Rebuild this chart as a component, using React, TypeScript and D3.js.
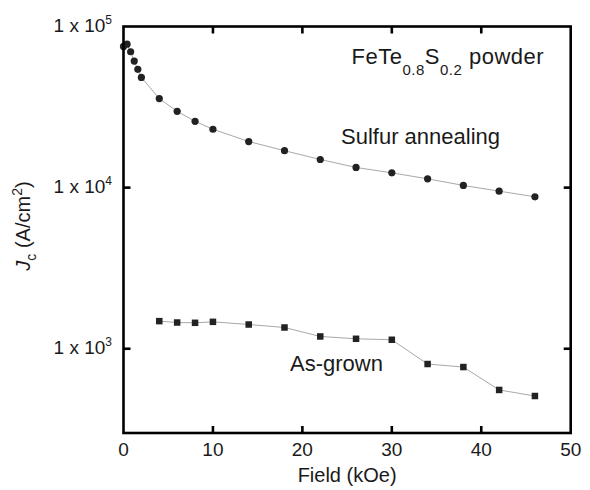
import React from "react";
import * as d3 from "d3";

const sulfurField = [0, 0.4, 0.8, 1.2, 1.6, 2, 4, 6, 8, 10, 14, 18, 22, 26, 30, 34, 38, 42, 46];
const sulfurJc = [75200, 77700, 69700, 61000, 54200, 48300, 35700, 29770, 25800, 23030, 19320, 16950, 14950, 13340, 12350, 11340, 10320, 9510, 8770];

const grownField = [4, 6, 8, 10, 14, 18, 22, 26, 30, 34, 38, 42, 46];
const grownJc = [1484, 1455, 1449, 1469, 1414, 1355, 1192, 1153, 1137, 804, 770, 555, 509];

const xTicks = [0, 10, 20, 30, 40, 50];
const yTicks = [1e3, 1e4, 1e5];
const yExponents = ["3", "4", "5"];

const W = 590;
const H = 490;
const left = 123.5;
const right = 570.7;
const top = 26.5;
const bottom = 433;
const FONT = "'Liberation Sans', Arial, Helvetica, sans-serif";
const INK = "#1a1a1a";

export default function App() {
  const x = d3.scaleLinear().domain([0, 50]).range([left, right]);
  const y = d3.scaleLog().domain([300, 1e5]).range([bottom, top]);

  const lineGen = d3
    .line<[number, number]>()
    .x((d) => x(d[0]))
    .y((d) => y(d[1]));

  const sulfurPts: [number, number][] = sulfurField.map((f, i) => [f, sulfurJc[i]]);
  const grownPts: [number, number][] = grownField.map((f, i) => [f, grownJc[i]]);

  const tickLen = 7;
  const sq = 6.5;

  return (
    <svg
      width={W}
      height={H}
      style={{ position: "absolute", left: 0, top: 0, background: "#fff" }}
      fontFamily={FONT}
    >
      <rect x={0} y={0} width={W} height={H} fill="#fff" />
      {/* data lines */}
      <path d={lineGen(sulfurPts) || ""} fill="none" stroke="#a8a8a8" strokeWidth={1} />
      <path d={lineGen(grownPts) || ""} fill="none" stroke="#a8a8a8" strokeWidth={1} />
      {sulfurPts.map((d, i) => (
        <circle key={"s" + i} cx={x(d[0])} cy={y(d[1])} r={3.6} fill="#222" />
      ))}
      {grownPts.map((d, i) => (
        <rect
          key={"g" + i}
          x={x(d[0]) - sq / 2}
          y={y(d[1]) - sq / 2}
          width={sq}
          height={sq}
          fill="#222"
        />
      ))}

      {/* frame */}
      <rect
        x={left}
        y={top}
        width={right - left}
        height={bottom - top}
        fill="none"
        stroke="#000"
        strokeWidth={2.6}
      />
      {/* x ticks */}
      {xTicks.slice(1, -1).map((t) => (
        <g key={"xt" + t}>
          <line x1={x(t)} x2={x(t)} y1={bottom} y2={bottom - tickLen} stroke="#000" strokeWidth={2.6} />
          <line x1={x(t)} x2={x(t)} y1={top} y2={top + tickLen} stroke="#000" strokeWidth={2.6} />
        </g>
      ))}
      {xTicks.map((t) => (
        <text key={"xl" + t} x={x(t)} y={456} textAnchor="middle" fontSize={19} fill={INK}>
          {t}
        </text>
      ))}
      {/* y ticks */}
      {yTicks.slice(0, 2).map((t) => (
        <g key={"yt" + t}>
          <line x1={left} x2={left + tickLen} y1={y(t)} y2={y(t)} stroke="#000" strokeWidth={2.6} />
          <line x1={right} x2={right - tickLen} y1={y(t)} y2={y(t)} stroke="#000" strokeWidth={2.6} />
        </g>
      ))}
      {yTicks.map((t, i) => (
        <text key={"yl" + t} x={112} y={y(t) + 5} textAnchor="end" fontSize={19} fill={INK}>
          1 x 10
          <tspan fontSize={12} dy={-8}>
            {yExponents[i]}
          </tspan>
        </text>
      ))}

      {/* axis titles */}
      <text x={(left + right) / 2} y={482} textAnchor="middle" fontSize={20} fill={INK}>
        Field (kOe)
      </text>
      <text transform="translate(30,226) rotate(-90)" textAnchor="middle" fontSize={20} fill={INK}>
        <tspan fontStyle="italic">J</tspan>
        <tspan fontSize={14} dy={6}>c</tspan>
        <tspan dy={-6}> (A/cm</tspan>
        <tspan fontSize={14} dy={-8}>2</tspan>
        <tspan dy={8}>)</tspan>
      </text>

      {/* annotations */}
      <text x={351.5} y={64} fontSize={22} fill={INK} letterSpacing={0.5}>
        FeTe
        <tspan fontSize={15} dy={11}>0.8</tspan>
        <tspan dy={-11}>S</tspan>
        <tspan fontSize={15} dy={11}>0.2</tspan>
        <tspan dy={-11}> powder</tspan>
      </text>
      <text x={341} y={144} fontSize={22} fill={INK}>
        Sulfur annealing
      </text>
      <text x={290} y={371} fontSize={22} fill={INK}>
        As-grown
      </text>
    </svg>
  );
}
